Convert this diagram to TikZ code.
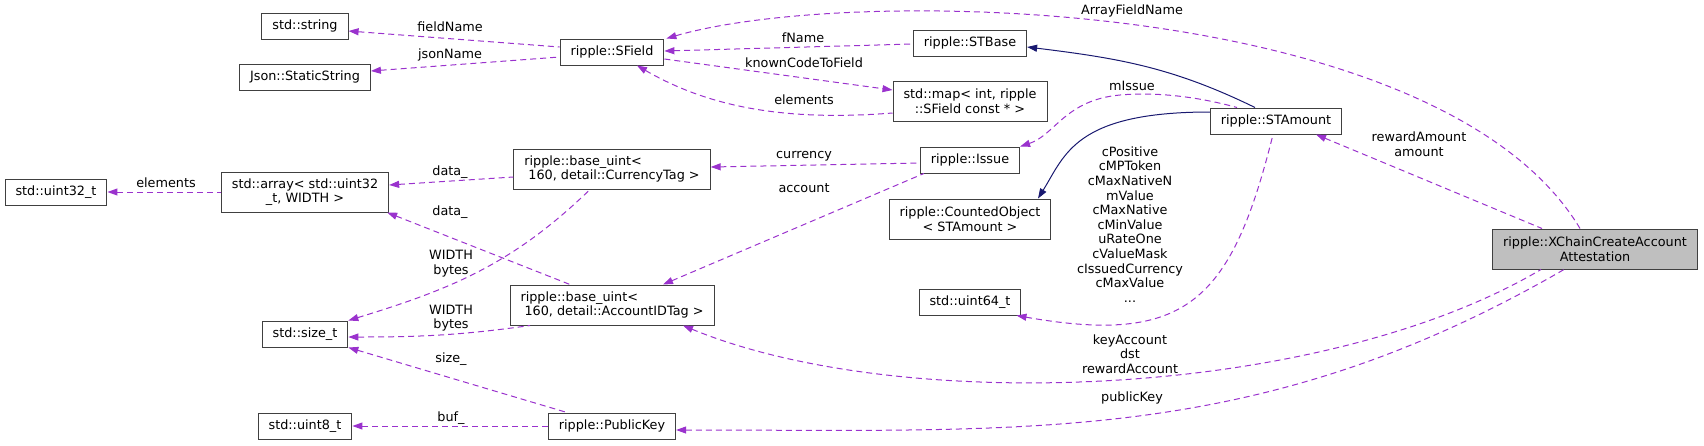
\documentclass[tikz,border=0pt]{standalone}
\usepackage{fontspec}
\setmainfont{DejaVu Sans}
\usepackage{xcolor}
\usetikzlibrary{arrows.meta}
\definecolor{usecol}{HTML}{9A32CD}
\definecolor{inhcol}{HTML}{191970}
\newcommand{\gfont}{\fontsize{12.8pt}{14.6pt}\selectfont}
\tikzset{
  cls/.style={draw=black!75, line width=1pt, fill=white, inner xsep=10.5pt, inner ysep=3pt, minimum height=26pt, font=\gfont},
  cls2/.style={cls, minimum height=40pt, align=center},
  tmpl/.style={cls, minimum height=40pt, align=left},
  cur/.style={cls2, fill=black!25},
  use/.style={draw=usecol, line width=1pt, dash pattern=on 6pt off 4pt, {Triangle[length=10pt,width=7pt]}-},
  usefwd/.style={draw=usecol, line width=1pt, dash pattern=on 6pt off 4pt, -{Triangle[length=10pt,width=7pt]}},
  inh/.style={draw=inhcol, line width=1pt, {Triangle[length=10pt,width=7pt]}-},
  lbl/.style={font=\gfont, align=center, inner sep=0pt}
}
\begin{document}
\begin{tikzpicture}[x=1pt, y=-1pt]
\useasboundingbox (0,0) rectangle (1704,445);
% classes
\node[cls] (uint32) at (56,192) {std::uint32\_t};
\node[cls] (str) at (305,26) {std::string};
\node[cls] (json) at (305,77) {Json::StaticString};
\node[cls2] (arr) at (305,192) {std::array< std::uint32\\\_t, WIDTH >};
\node[cls] (sizet) at (305,334) {std::size\_t};
\node[cls] (uint8) at (305,426) {std::uint8\_t};
\node[cls] (sfield) at (612,52) {ripple::SField};
\node[tmpl] (curtag) at (612,169) {ripple::base\_uint<\\\ 160, detail::CurrencyTag >};
\node[tmpl] (acctag) at (612,305) {ripple::base\_uint<\\\ 160, detail::AccountIDTag >};
\node[cls] (pubkey) at (612,426) {ripple::PublicKey};
\node[cls] (stbase) at (970,43) {ripple::STBase};
\node[cls2] (smap) at (970,101) {std::map< int, ripple\\::SField const * >};
\node[cls] (issue) at (970,160) {ripple::Issue};
\node[cls2] (counted) at (970,219) {ripple::CountedObject\\< STAmount >};
\node[cls] (uint64) at (970,302) {std::uint64\_t};
\node[cls] (stamount) at (1276,121) {ripple::STAmount};
\node[cur] (xchain) at (1595,249) {ripple::XChainCreateAccount\\Attestation};

% usage
\draw[use] ([yshift=-5pt]str.east) -- ([yshift=5pt]sfield.west);
\draw[use] ([yshift=6pt]json.east) -- ([yshift=-5pt]sfield.west);
\draw[use] (uint32.east) -- (arr.west);
\draw[use] ([yshift=7pt]arr.east) -- ([yshift=-8pt]curtag.west);
\draw[use] ([xshift=-2pt]arr.south east) -- ([xshift=-42pt]acctag.north);
\draw[use] (sizet.north east) to[out=17,in=224] ([xshift=-22pt]curtag.south);
\draw[use] ([yshift=-3pt]sizet.east) to[out=0,in=188] ([xshift=-82pt]acctag.south);
\draw[use] (sizet.south east) -- ([xshift=-45pt]pubkey.north);
\draw[use] (uint8.east) -- (pubkey.west);
\draw[use] ([yshift=1pt]sfield.east) -- ([yshift=-1pt]stbase.west);
\draw[usefwd] ([yshift=-7pt]sfield.east) -- ([yshift=11pt]smap.west);
\draw[use] ([xshift=25pt]sfield.south) .. controls (705,105) and (780,122) .. ([yshift=-12pt]smap.west);
\draw[use] ([xshift=2pt]sfield.north east) .. controls (850,-15) and (1440,-5) .. ([xshift=-15pt]xchain.north);
\draw[use] (issue.north east) .. controls (1055,135) and (1065,100) .. (1120,95)
  .. controls (1165,91) and (1210,100) .. ([xshift=-39pt]stamount.north);
\draw[use] ([yshift=2pt]curtag.east) -- ([yshift=-3pt]issue.west);
\draw[use] ([xshift=51pt]acctag.north) -- ([xshift=4pt]issue.south west);
\draw[use] ([xshift=-5pt]uint64.south east) to[out=-10,in=-104,looseness=1.4] ([xshift=-3pt]stamount.south);
\draw[use] ([xshift=40pt]stamount.south) -- ([xshift=-53pt]xchain.north);
\draw[use] ([xshift=71pt]acctag.south) .. controls (900,415) and (1320,400) .. ([xshift=-54pt]xchain.south);
\draw[use] ([yshift=-4pt]pubkey.east) to[out=0,in=210] ([xshift=-31pt]xchain.south);

% inheritance
\draw[inh] ([yshift=-4pt]stbase.east) to[out=-7,in=154] ([xshift=-21pt]stamount.north);
\draw[inh] ([xshift=68pt]counted.north) .. controls (1065,155) and (1075,112) .. ([yshift=9pt]stamount.west);

% edge labels
\node[lbl] (l1) at (450,27) {fieldName};
\node[lbl] (l2) at (450,55) {jsonName};
\node[lbl] (l3) at (166,183) {elements};
\node[lbl] (l4) at (450,172) {data\_};
\node[lbl] (l5) at (450,212) {data\_};
\node[lbl] (l6) at (451,263.5) {WIDTH\\bytes};
\node[lbl] (l7) at (451,318) {WIDTH\\bytes};
\node[lbl] (l8) at (451,359) {size\_};
\node[lbl] (l9) at (451,418) {buf\_};
\node[lbl] (l10) at (803,38) {fName};
\node[lbl] (l11) at (804,63) {knownCodeToField};
\node[lbl] (l12) at (804,100) {elements};
\node[lbl] (l13) at (804,156) {currency};
\node[lbl] (l14) at (804,188) {account};
\node[lbl] (l15) at (1132,11) {ArrayFieldName};
\node[lbl] (l16) at (1132,86) {mIssue};
\node[lbl] (l17) at (1130,224.5) {cPositive\\cMPToken\\cMaxNativeN\\mValue\\cMaxNative\\cMinValue\\uRateOne\\cValueMask\\cIssuedCurrency\\cMaxValue\\...};
\node[lbl] (l18) at (1130,354) {keyAccount\\dst\\rewardAccount};
\node[lbl] (l19) at (1132,398) {publicKey};
\node[lbl] (l20) at (1419,144.5) {rewardAmount\\amount};
\end{tikzpicture}
\end{document}
